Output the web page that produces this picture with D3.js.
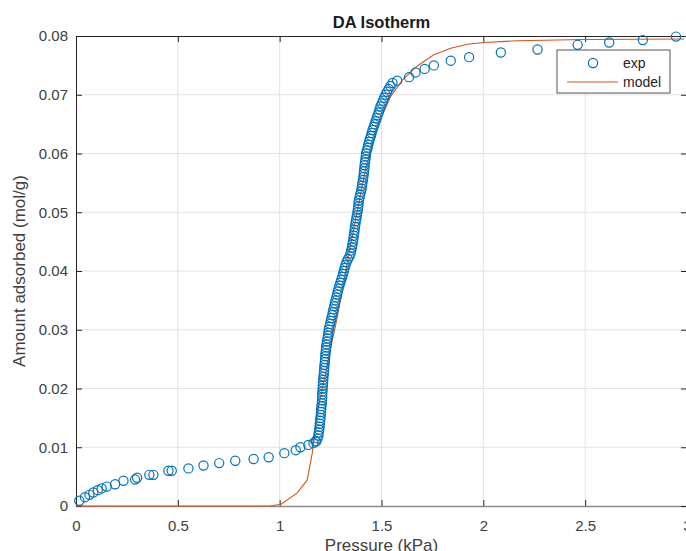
<!DOCTYPE html>
<html>
<head>
<meta charset="utf-8">
<script src="https://cdn.jsdelivr.net/npm/d3@7"></script>
<style>
  body { margin: 0; background: #fff; }
  svg { display: block; font-family: "Liberation Sans", Arial, sans-serif; }
</style>
</head>
<body>
<div id="chart"></div>
<script>
// Experimental points, pressure (kPa)
var expPressure = [
    0.016, 0.044, 0.066, 0.085, 0.107, 0.126, 0.151, 0.192, 0.233, 0.290,
    0.300, 0.360, 0.380, 0.454, 0.470, 0.552, 0.626, 0.703, 0.782, 0.872,
    0.946, 1.023, 1.079, 1.102, 1.141, 1.166, 1.176,
    1.180, 1.186, 1.190, 1.192, 1.194, 1.196, 1.197, 1.199, 1.200, 1.202,
    1.203, 1.204, 1.205, 1.207, 1.208, 1.209, 1.209, 1.210, 1.211, 1.212,
    1.213, 1.214, 1.215, 1.217, 1.218, 1.219, 1.220, 1.222, 1.223, 1.224,
    1.225, 1.227, 1.228, 1.230, 1.232, 1.235, 1.237, 1.239, 1.241, 1.244,
    1.248, 1.251, 1.254, 1.258, 1.261, 1.264, 1.268, 1.271, 1.274, 1.278,
    1.282, 1.285, 1.289, 1.293, 1.298, 1.302, 1.307, 1.311, 1.315, 1.319,
    1.323, 1.328, 1.335, 1.343, 1.348, 1.351, 1.355, 1.357, 1.360, 1.362,
    1.364, 1.366, 1.368, 1.370, 1.372, 1.374, 1.377, 1.379, 1.382, 1.384,
    1.386, 1.387, 1.389, 1.392, 1.395, 1.399, 1.402, 1.404, 1.406, 1.409,
    1.411, 1.413, 1.414, 1.416, 1.417, 1.419, 1.421, 1.423, 1.424, 1.428,
    1.432, 1.435, 1.439, 1.443, 1.448, 1.452, 1.456, 1.461, 1.466, 1.471,
    1.476, 1.481, 1.486, 1.490, 1.495, 1.501, 1.507, 1.513, 1.520, 1.527,
    1.535, 1.544, 1.554,
    1.577, 1.635, 1.667, 1.712, 1.757, 1.840, 1.930, 2.086, 2.266, 2.463,
    2.618, 2.783, 2.946
];

// Experimental points, amount adsorbed (mol/g)
var expAmount = [
    0.0009, 0.0015, 0.0019, 0.0023, 0.0027, 0.0030, 0.0033, 0.0037, 0.0043, 0.0045,
    0.0048, 0.0053, 0.0053, 0.0060, 0.0060, 0.0064, 0.0069, 0.0073, 0.0077, 0.0080,
    0.0083, 0.0090, 0.0095, 0.0100, 0.0104, 0.0107, 0.0110,
    0.0110, 0.0115, 0.0120, 0.0125, 0.0130, 0.0135, 0.0140, 0.0145, 0.0150, 0.0155,
    0.0160, 0.0165, 0.0170, 0.0175, 0.0180, 0.0185, 0.0190, 0.0195, 0.0200, 0.0205,
    0.0210, 0.0215, 0.0220, 0.0225, 0.0230, 0.0235, 0.0240, 0.0245, 0.0250, 0.0255,
    0.0260, 0.0265, 0.0270, 0.0275, 0.0280, 0.0285, 0.0290, 0.0295, 0.0300, 0.0305,
    0.0310, 0.0315, 0.0320, 0.0325, 0.0330, 0.0335, 0.0340, 0.0345, 0.0350, 0.0355,
    0.0360, 0.0365, 0.0370, 0.0375, 0.0380, 0.0385, 0.0390, 0.0395, 0.0400, 0.0405,
    0.0410, 0.0415, 0.0420, 0.0425, 0.0430, 0.0435, 0.0440, 0.0445, 0.0450, 0.0455,
    0.0460, 0.0465, 0.0470, 0.0475, 0.0480, 0.0485, 0.0490, 0.0495, 0.0500, 0.0505,
    0.0510, 0.0515, 0.0520, 0.0525, 0.0530, 0.0535, 0.0540, 0.0545, 0.0550, 0.0555,
    0.0560, 0.0565, 0.0570, 0.0575, 0.0580, 0.0585, 0.0590, 0.0595, 0.0600, 0.0605,
    0.0610, 0.0615, 0.0620, 0.0625, 0.0630, 0.0635, 0.0640, 0.0645, 0.0650, 0.0655,
    0.0660, 0.0665, 0.0670, 0.0675, 0.0680, 0.0685, 0.0690, 0.0695, 0.0700, 0.0705,
    0.0710, 0.0715, 0.0720,
    0.0724, 0.0730, 0.0738, 0.0744, 0.0750, 0.0758, 0.0764, 0.0772, 0.0777, 0.0785,
    0.0789, 0.0793, 0.0799
];

// Model curve (DA fit)
var modelPressure = [0, 0.5, 0.95, 1.007, 1.085, 1.135, 1.16, 1.184, 1.216, 1.249,
    1.282, 1.315, 1.34, 1.421, 1.479, 1.545, 1.602, 1.676, 1.757, 1.840,
    1.922, 2.003, 2.168, 2.494, 2.986];
var modelAmount = [0, 0, 0, 0.0003, 0.0022, 0.0044, 0.0090, 0.0158, 0.0210, 0.0266,
    0.0320, 0.0380, 0.0430, 0.0572, 0.0646, 0.0697, 0.0725, 0.0749, 0.0768, 0.0779,
    0.0786, 0.0789, 0.0792, 0.0794, 0.0795];

var xTicks = [0, 0.5, 1, 1.5, 2, 2.5, 3];
var yTicks = [0, 0.01, 0.02, 0.03, 0.04, 0.05, 0.06, 0.07, 0.08];
var legendLabels = ["exp", "model"];

var blue = "#0072BD",
    orange = "#D95319",
    ink = "#262626";

// Chart area
var margin = {top: 36, right: -1, bottom: 45, left: 76},
    width = 686 - margin.left - margin.right,
    height = 551 - margin.top - margin.bottom;

var svg = d3.select("#chart")
    .append("svg")
        .attr("width", 686)
        .attr("height", 551);

var g = svg.append("g")
    .attr("transform", "translate(" + margin.left + "," + margin.top + ")");

var x = d3.scaleLinear().domain([0, 3]).range([0, width]);
var y = d3.scaleLinear().domain([0, 0.08]).range([height, 0]);

// Grid
g.append("g").selectAll("line")
    .data(xTicks.slice(1))
    .enter().append("line")
        .attr("x1", function(d) { return x(d); })
        .attr("x2", function(d) { return x(d); })
        .attr("y1", 0).attr("y2", height)
        .style("stroke", "#e3e3e3");

g.append("g").selectAll("line")
    .data(yTicks.slice(1, -1))
    .enter().append("line")
        .attr("x1", 0).attr("x2", width)
        .attr("y1", function(d) { return y(d); })
        .attr("y2", function(d) { return y(d); })
        .style("stroke", "#e3e3e3");

// Axes
var xAxis = g.append("g")
    .attr("transform", "translate(0," + height + ")")
    .call(d3.axisBottom(x).tickValues(xTicks).tickSizeInner(-6).tickSizeOuter(0).tickPadding(14)
        .tickFormat(d3.format("")));

var xTop = g.append("g")
    .call(d3.axisTop(x).tickValues(xTicks).tickSizeInner(-6).tickSizeOuter(0).tickFormat(""));

var yAxis = g.append("g")
    .call(d3.axisLeft(y).tickValues(yTicks).tickSizeInner(-6).tickSizeOuter(0).tickPadding(8)
        .tickFormat(function(d) { return d === 0 ? "0" : d3.format(".2f")(d); }));

var yRight = g.append("g")
    .attr("transform", "translate(" + width + ",0)")
    .call(d3.axisRight(y).tickValues(yTicks).tickSizeInner(-6).tickSizeOuter(0).tickFormat(""));

[xAxis, xTop, yAxis, yRight].forEach(function(a) {
    a.select(".domain").style("stroke", ink).style("stroke-width", 1);
    a.selectAll(".tick line").style("stroke", ink);
    a.selectAll("text")
        .style("font-size", "15px")
        .style("fill", "#404040")
        .style("font-family", "Liberation Sans, Arial, sans-serif");
});
xAxis.select(".domain").style("stroke", "#8c8c8c").style("stroke-width", 1.6);

// Model line
var line = d3.line()
    .x(function(d) { return x(d[0]); })
    .y(function(d) { return y(d[1]); });

var modelData = modelPressure.map(function(p, i) { return [p, modelAmount[i]]; });

g.append("path")
    .datum(modelData)
    .attr("d", line)
    .style("fill", "none")
    .style("stroke", orange)
    .style("stroke-width", 1.1);

// Experimental circles
var expData = expPressure.map(function(p, i) { return [p, expAmount[i]]; });

g.append("g").selectAll("circle")
    .data(expData)
    .enter().append("circle")
        .attr("cx", function(d) { return x(d[0]); })
        .attr("cy", function(d) { return y(d[1]); })
        .attr("r", 4.6)
        .style("fill", "none")
        .style("stroke", blue)
        .style("stroke-width", 1.2);

// Title and labels
svg.append("text")
    .attr("x", margin.left + x(1.5))
    .attr("y", 28)
    .attr("text-anchor", "middle")
    .style("font-size", "16.5px")
    .style("font-weight", "bold")
    .style("fill", "#1a1a1a")
    .text("DA Isotherm");

svg.append("text")
    .attr("x", margin.left + x(1.5))
    .attr("y", 551)
    .attr("text-anchor", "middle")
    .style("font-size", "17px")
    .style("fill", "#404040")
    .text("Pressure (kPa)");

svg.append("text")
    .attr("transform", "translate(25," + (margin.top + height / 2) + ") rotate(-90)")
    .attr("text-anchor", "middle")
    .style("font-size", "17px")
    .style("fill", "#404040")
    .text("Amount adsorbed (mol/g)");

// Legend
var legend = svg.append("g").attr("transform", "translate(557,50)");

legend.append("rect")
    .attr("width", 113).attr("height", 43)
    .style("fill", "#fff")
    .style("stroke", "#555")
    .style("stroke-width", 1);

legend.append("circle")
    .attr("cx", 36).attr("cy", 13).attr("r", 4.6)
    .style("fill", "none").style("stroke", blue).style("stroke-width", 1.2);

legend.append("line")
    .attr("x1", 10).attr("x2", 61).attr("y1", 32).attr("y2", 32)
    .style("stroke", orange).style("stroke-width", 1.1);

legend.selectAll("text.lab")
    .data(legendLabels)
    .enter().append("text")
        .attr("class", "lab")
        .attr("x", 66)
        .attr("y", function(d, i) { return 18 + i * 19; })
        .style("font-size", "14px")
        .style("fill", ink)
        .text(function(d) { return d; });
</script>
</body>
</html>
